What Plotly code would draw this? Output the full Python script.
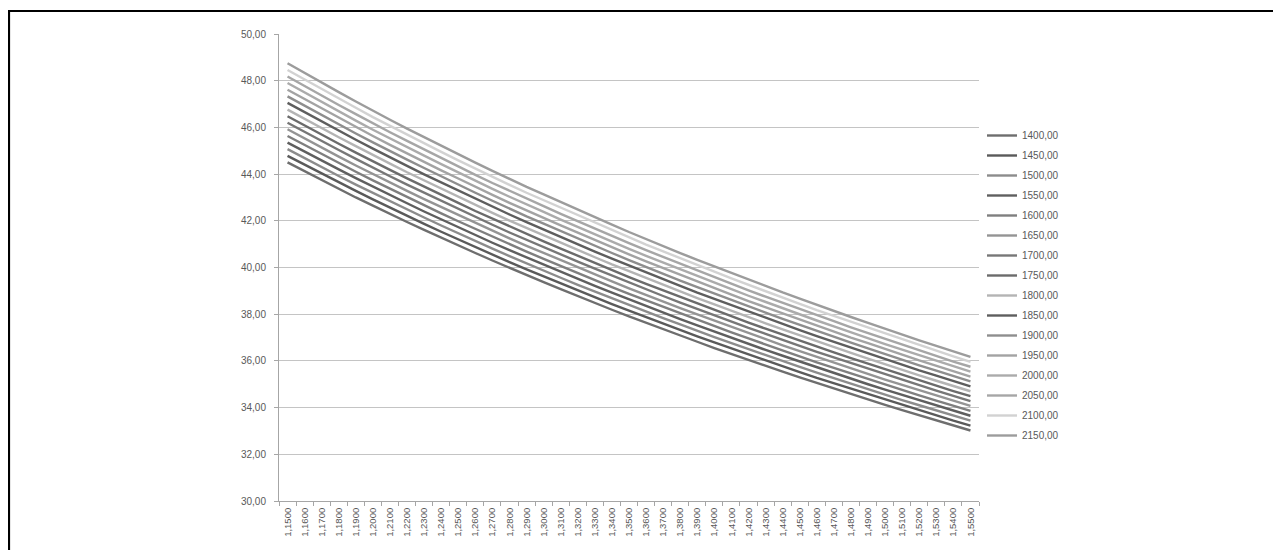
import plotly.graph_objects as go

categories = ["1,1500", "1,1600", "1,1700", "1,1800", "1,1900", "1,2000", "1,2100", "1,2200", "1,2300", "1,2400",
              "1,2500", "1,2600", "1,2700", "1,2800", "1,2900", "1,3000", "1,3100", "1,3200", "1,3300", "1,3400",
              "1,3500", "1,3600", "1,3700", "1,3800", "1,3900", "1,4000", "1,4100", "1,4200", "1,4300", "1,4400",
              "1,4500", "1,4600", "1,4700", "1,4800", "1,4900", "1,5000", "1,5100", "1,5200", "1,5300", "1,5400",
              "1,5500"]

series_names = ["1400,00", "1450,00", "1500,00", "1550,00", "1600,00", "1650,00", "1700,00", "1750,00",
                "1800,00", "1850,00", "1900,00", "1950,00", "2000,00", "2050,00", "2100,00", "2150,00"]

s1400 = [44.50, 44.12, 43.74, 43.37, 43.00, 42.65, 42.29, 41.95, 41.61, 41.27, 40.94, 40.62, 40.30, 39.98, 39.67,
         39.37, 39.07, 38.77, 38.48, 38.19, 37.91, 37.63, 37.35, 37.08, 36.82, 36.55, 36.29, 36.04, 35.79, 35.54,
         35.29, 35.05, 34.81, 34.58, 34.35, 34.12, 33.89, 33.67, 33.45, 33.23, 33.02]
s1450 = [44.78, 44.40, 44.02, 43.65, 43.28, 42.92, 42.56, 42.21, 41.87, 41.53, 41.20, 40.87, 40.55, 40.23, 39.92,
         39.62, 39.31, 39.02, 38.72, 38.43, 38.15, 37.87, 37.59, 37.32, 37.05, 36.79, 36.53, 36.27, 36.02, 35.76,
         35.52, 35.27, 35.04, 34.80, 34.57, 34.33, 34.11, 33.88, 33.66, 33.44, 33.23]
s1500 = [45.07, 44.68, 44.30, 43.92, 43.55, 43.19, 42.83, 42.48, 42.14, 41.80, 41.46, 41.13, 40.81, 40.49, 40.17,
         39.87, 39.56, 39.26, 38.97, 38.68, 38.39, 38.11, 37.83, 37.56, 37.28, 37.02, 36.76, 36.50, 36.24, 35.99,
         35.74, 35.50, 35.26, 35.02, 34.78, 34.55, 34.32, 34.10, 33.87, 33.65, 33.44]
s1550 = [45.35, 44.96, 44.57, 44.20, 43.83, 43.46, 43.10, 42.75, 42.40, 42.06, 41.72, 41.39, 41.06, 40.74, 40.43,
         40.12, 39.81, 39.51, 39.21, 38.92, 38.63, 38.35, 38.07, 37.79, 37.52, 37.25, 36.99, 36.73, 36.47, 36.22,
         35.97, 35.72, 35.48, 35.24, 35.00, 34.77, 34.54, 34.31, 34.09, 33.86, 33.65]
s1600 = [45.63, 45.24, 44.85, 44.47, 44.10, 43.73, 43.37, 43.02, 42.67, 42.32, 41.98, 41.65, 41.32, 41.00, 40.68,
         40.37, 40.06, 39.76, 39.46, 39.16, 38.87, 38.59, 38.31, 38.03, 37.75, 37.49, 37.22, 36.96, 36.70, 36.44,
         36.19, 35.94, 35.70, 35.46, 35.22, 34.99, 34.76, 34.52, 34.30, 34.08, 33.86]
s1650 = [45.92, 45.52, 45.13, 44.75, 44.37, 44.00, 43.64, 43.28, 42.93, 42.59, 42.25, 41.91, 41.58, 41.25, 40.93,
         40.62, 40.31, 40.00, 39.70, 39.41, 39.11, 38.82, 38.54, 38.26, 37.99, 37.72, 37.45, 37.18, 36.93, 36.67,
         36.42, 36.17, 35.92, 35.68, 35.44, 35.20, 34.97, 34.74, 34.51, 34.29, 34.07]
s1700 = [46.20, 45.80, 45.41, 45.03, 44.65, 44.27, 43.91, 43.55, 43.20, 42.85, 42.51, 42.16, 41.83, 41.50, 41.18,
         40.87, 40.56, 40.25, 39.95, 39.65, 39.35, 39.06, 38.78, 38.50, 38.22, 37.95, 37.68, 37.41, 37.16, 36.89,
         36.64, 36.39, 36.15, 35.90, 35.66, 35.42, 35.19, 34.95, 34.73, 34.50, 34.28]
s1750 = [46.48, 46.08, 45.69, 45.30, 44.92, 44.54, 44.18, 43.82, 43.46, 43.11, 42.77, 42.42, 42.09, 41.76, 41.43,
         41.12, 40.81, 40.50, 40.19, 39.89, 39.59, 39.30, 39.02, 38.74, 38.45, 38.19, 37.91, 37.64, 37.38, 37.12,
         36.87, 36.61, 36.37, 36.12, 35.88, 35.64, 35.40, 35.17, 34.94, 34.71, 34.49]
s1800 = [46.76, 46.36, 45.96, 45.58, 45.20, 44.81, 44.45, 44.08, 43.73, 43.37, 43.03, 42.68, 42.34, 42.01, 41.69,
         41.37, 41.06, 40.75, 40.44, 40.13, 39.84, 39.54, 39.26, 38.97, 38.69, 38.42, 38.14, 37.87, 37.61, 37.35,
         37.09, 36.84, 36.59, 36.34, 36.10, 35.85, 35.62, 35.38, 35.15, 34.92, 34.70]
s1850 = [47.05, 46.65, 46.24, 45.85, 45.47, 45.09, 44.71, 44.35, 43.99, 43.64, 43.29, 42.94, 42.60, 42.27, 41.94,
         41.62, 41.31, 40.99, 40.68, 40.38, 40.08, 39.78, 39.50, 39.21, 38.92, 38.65, 38.37, 38.10, 37.84, 37.57,
         37.32, 37.06, 36.81, 36.56, 36.32, 36.07, 35.84, 35.59, 35.37, 35.13, 34.91]
s1900 = [47.33, 46.93, 46.52, 46.13, 45.74, 45.36, 44.98, 44.62, 44.26, 43.90, 43.55, 43.20, 42.86, 42.52, 42.19,
         41.88, 41.56, 41.24, 40.93, 40.62, 40.32, 40.02, 39.73, 39.44, 39.16, 38.88, 38.60, 38.33, 38.07, 37.80,
         37.54, 37.28, 37.03, 36.78, 36.54, 36.29, 36.05, 35.81, 35.58, 35.34, 35.12]
s1950 = [47.61, 47.21, 46.80, 46.41, 46.02, 45.63, 45.25, 44.88, 44.52, 44.16, 43.81, 43.45, 43.11, 42.77, 42.44,
         42.13, 41.80, 41.49, 41.17, 40.86, 40.56, 40.26, 39.97, 39.68, 39.39, 39.12, 38.84, 38.56, 38.30, 38.02,
         37.77, 37.50, 37.26, 37.00, 36.76, 36.50, 36.27, 36.02, 35.79, 35.55, 35.33]
s2000 = [47.90, 47.49, 47.08, 46.68, 46.29, 45.90, 45.52, 45.15, 44.79, 44.43, 44.07, 43.71, 43.37, 43.03, 42.69,
         42.38, 42.05, 41.73, 41.42, 41.11, 40.80, 40.50, 40.21, 39.92, 39.62, 39.35, 39.07, 38.79, 38.52, 38.25,
         37.99, 37.73, 37.48, 37.22, 36.97, 36.72, 36.48, 36.24, 36.00, 35.76, 35.54]
s2050 = [48.18, 47.77, 47.35, 46.96, 46.57, 46.17, 45.79, 45.42, 45.05, 44.69, 44.33, 43.97, 43.62, 43.28, 42.95,
         42.63, 42.30, 41.98, 41.66, 41.35, 41.04, 40.74, 40.45, 40.15, 39.86, 39.58, 39.30, 39.02, 38.75, 38.48,
         38.22, 37.95, 37.70, 37.44, 37.19, 36.94, 36.70, 36.45, 36.22, 35.97, 35.75]
s2100 = [48.46, 48.05, 47.63, 47.23, 46.84, 46.44, 46.06, 45.69, 45.32, 44.95, 44.59, 44.23, 43.88, 43.54, 43.20,
         42.88, 42.55, 42.23, 41.91, 41.59, 41.28, 40.98, 40.69, 40.39, 40.09, 39.82, 39.53, 39.25, 38.98, 38.70,
         38.44, 38.17, 37.92, 37.66, 37.41, 37.16, 36.92, 36.66, 36.43, 36.19, 35.96]
s2150 = [48.75, 48.33, 47.91, 47.51, 47.11, 46.71, 46.33, 45.95, 45.58, 45.22, 44.86, 44.49, 44.14, 43.79, 43.45,
         43.13, 42.80, 42.47, 42.15, 41.84, 41.52, 41.21, 40.92, 40.62, 40.33, 40.05, 39.76, 39.47, 39.21, 38.93,
         38.67, 38.40, 38.14, 37.88, 37.63, 37.37, 37.13, 36.88, 36.64, 36.40, 36.17]

series_values = [s1400, s1450, s1500, s1550, s1600, s1650, s1700, s1750,
                 s1800, s1850, s1900, s1950, s2000, s2050, s2100, s2150]

line_colors = ["#6e6e6e", "#5a5a5a", "#8c8c8c", "#5f5f5f", "#7f7f7f", "#949494", "#777777", "#6b6b6b",
               "#b4b4b4", "#5e5e5e", "#8e8e8e", "#a3a3a3", "#ababab", "#a6a6a6", "#d2d2d2", "#9c9c9c"]

fig = go.Figure()
for name, vals, col in zip(series_names, series_values, line_colors):
    fig.add_trace(go.Scatter(x=categories, y=vals, mode="lines", name=name,
                             legendgroup=name,
                             line=dict(color=col, width=2.4)))

# page has an 8px body margin; positions below are page pixels minus 8
OFF = 8
W, H = 1273, 542
L, T = 279 - OFF, 34 - OFF
R = W - (979 - OFF)
B = H - (501 - OFF)
pw, ph = W - L - R, H - T - B

def px(x):
    return (x - OFF - L) / pw

def py(y):
    return (H - B - (y - OFF)) / ph

fig.update_layout(
    width=W, height=H,
    margin=dict(l=L, r=R, t=T, b=B, pad=0),
    paper_bgcolor="white", plot_bgcolor="white",
    separators=",.",
    font=dict(family="Liberation Sans, Arial, sans-serif", size=10, color="#595959"),
    showlegend=True,
    legend=dict(x=px(982), y=py(121), xanchor="left", yanchor="top",
                font=dict(size=10, color="#595959"),
                tracegroupgap=1, itemwidth=30,
                bgcolor="rgba(0,0,0,0)", borderwidth=0),
    xaxis=dict(type="category", categoryorder="array", categoryarray=categories,
               tickangle=-90, tickson="boundaries", ticks="outside", ticklen=4,
               tickcolor="#a6a6a6", showline=True, linecolor="#a6a6a6", linewidth=1,
               showgrid=False, tickfont=dict(size=9.5, color="#595959"),
               ticklabelstandoff=2,
               range=[-0.5, len(categories) - 0.5]),
    yaxis=dict(range=[30, 50], dtick=2, tick0=30, tickformat=".2f",
               ticks="outside", ticklen=4, tickcolor="#a6a6a6",
               showline=True, linecolor="#a6a6a6", linewidth=1,
               showgrid=True, gridcolor="#c4c4c4", gridwidth=1.2,
               ticklabelstandoff=6,
               zeroline=False, tickfont=dict(size=10, color="#595959")),
    shapes=[
        dict(type="line", xref="paper", yref="paper", x0=px(8.5), x1=px(1285), y0=py(11), y1=py(11),
             line=dict(color="black", width=2.2)),
        dict(type="line", xref="paper", yref="paper", x0=px(9), x1=px(9), y0=py(10), y1=py(555),
             line=dict(color="black", width=2.2)),
    ],
)

fig.write_html("out.html")
